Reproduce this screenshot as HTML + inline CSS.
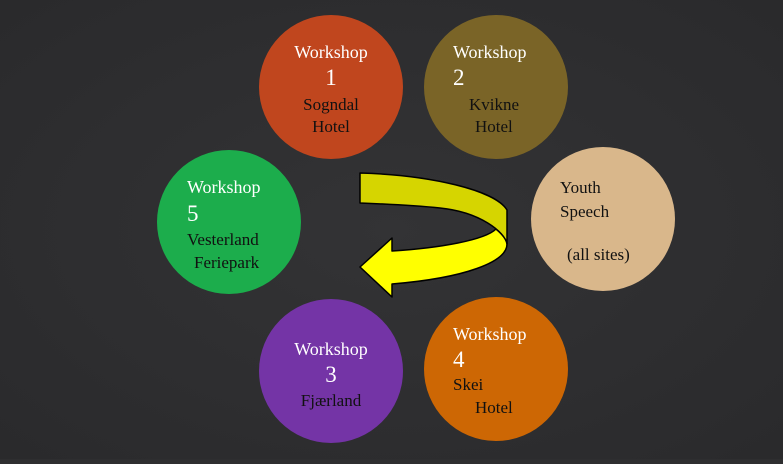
<!DOCTYPE html>
<html><head><meta charset="utf-8"><style>
html,body{margin:0;padding:0;}
body{width:783px;height:459px;overflow:hidden;background:#2e2e30;}
svg text{font-family:"Liberation Serif",serif;}
.w{fill:#fff;font-size:18px;}
.n{fill:#fff;font-size:23px;}
.b{fill:#111;font-size:17px;}
</style></head><body>
<svg width="783" height="459" viewBox="0 0 783 459">
<defs>
<radialGradient id="bg" cx="50%" cy="50%" r="70%">
<stop offset="0" stop-color="#333335"/><stop offset="1" stop-color="#2a2a2c"/>
</radialGradient>
</defs>
<rect width="783" height="459" fill="url(#bg)"/>

<g>
<circle cx="331" cy="87" r="72" fill="#c0461e"/>
<text class="w" x="331" y="58" text-anchor="middle">Workshop</text>
<text class="n" x="331" y="85" text-anchor="middle">1</text>
<text class="b" x="331" y="110" text-anchor="middle">Sogndal</text>
<text class="b" x="331" y="132" text-anchor="middle">Hotel</text>
</g>

<g>
<circle cx="496" cy="87" r="72" fill="#7a6427"/>
<text class="w" x="453" y="58">Workshop</text>
<text class="n" x="453" y="85">2</text>
<text class="b" x="469" y="110">Kvikne</text>
<text class="b" x="475" y="132">Hotel</text>
</g>

<g>
<circle cx="229" cy="222" r="72" fill="#1cad4c"/>
<text class="w" x="187" y="193">Workshop</text>
<text class="n" x="187" y="221">5</text>
<text class="b" x="187" y="245">Vesterland</text>
<text class="b" x="194" y="268">Feriepark</text>
</g>

<g>
<circle cx="603" cy="219" r="72" fill="#d9b78b"/>
<text class="b" x="560" y="193">Youth</text>
<text class="b" x="560" y="217">Speech</text>
<text class="b" x="567" y="260">(all sites)</text>
</g>

<g>
<circle cx="331" cy="371" r="72" fill="#7434a6"/>
<text class="w" x="331" y="355" text-anchor="middle">Workshop</text>
<text class="n" x="331" y="382" text-anchor="middle">3</text>
<text class="b" x="331" y="406" text-anchor="middle">Fjærland</text>
</g>

<g>
<circle cx="496" cy="369" r="72" fill="#cd6704"/>
<text class="w" x="453" y="340">Workshop</text>
<text class="n" x="453" y="367">4</text>
<text class="b" x="453" y="390">Skei</text>
<text class="b" x="475" y="413">Hotel</text>
</g>

<g stroke="#000" stroke-width="1.5" stroke-linejoin="round">
<path d="M392,251 C440,248 485,240 496,229 C503,235 507,240 507,244 C507,262 465,278 392,284 L392,297 L360,267 L392,238 Z" fill="#ffff00"/>
<path d="M360,173 C430,175 495,190 507,210 L507,244 C505,232 480,212 440,208 C410,205 385,204 360,203 Z" fill="#d6d500"/>
</g>
</svg>
</body></html>
